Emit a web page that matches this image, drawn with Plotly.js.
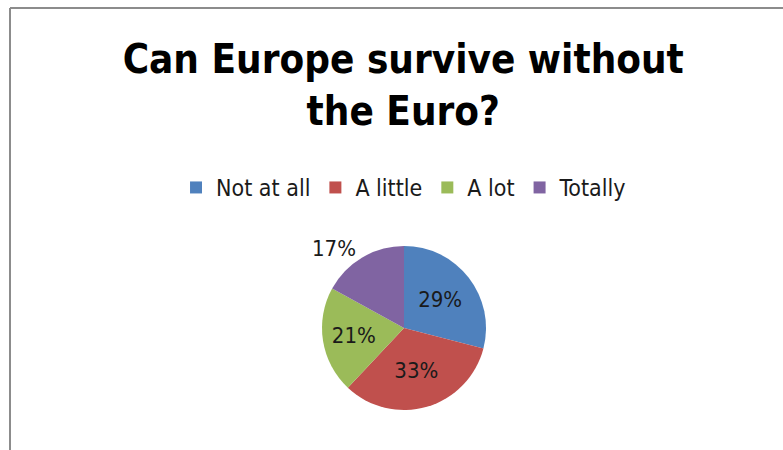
<!DOCTYPE html>
<html>
<head>
<meta charset="utf-8">
<script src="https://cdn.plot.ly/plotly-3.0.1.min.js"></script>
<style>html,body{margin:0;padding:0;background:#fff;}#chart{width:783px;height:450px;}</style>
</head>
<body>
<div id="chart"></div>
<script>
const categories = ["Not at all", "A little", "A lot", "Totally"];
const values = [29, 33, 21, 17];
const colors = ["#4F81BD", "#C0504D", "#9BBB59", "#8064A2"];
const labelPositions = ["inside", "inside", "inside", "outside"];

const W = 783, H = 450;
const cx = 404, cy = 328, r = 82;
const FONT = "Liberation Sans Narrow, DejaVu Sans Condensed, sans-serif";

const trace = {
  type: "pie",
  labels: categories,
  values: values,
  sort: false,
  direction: "clockwise",
  rotation: 0,
  marker: {colors: colors, line: {width: 0}},
  textinfo: "percent",
  texttemplate: "%{percent:.0%}",
  textposition: labelPositions,
  insidetextorientation: "horizontal",
  insidetextfont: {family: FONT, size: 22, color: "#1a1a1a"},
  outsidetextfont: {family: FONT, size: 22, color: "#1a1a1a"},
  hoverinfo: "label+percent",
  domain: {x: [(cx - r) / W, (cx + r) / W], y: [1 - (cy + r) / H, 1 - (cy - r) / H]},
  automargin: false
};

const layout = {
  width: W, height: H,
  margin: {l: 0, r: 0, t: 0, b: 0},
  paper_bgcolor: "#ffffff",
  plot_bgcolor: "#ffffff",
  font: {family: FONT, color: "#1a1a1a"},
  title: {
    text: "<b>Can Europe survive without<br>the Euro?</b>",
    font: {family: FONT, size: 40, color: "#000000"},
    x: 0.515, xanchor: "center",
    y: 1 - 73 / H, yanchor: "top"
  },
  showlegend: true,
  legend: {
    orientation: "h",
    x: 0.516, xanchor: "center",
    y: 1 - 166 / H, yanchor: "top",
    font: {family: FONT, size: 23, color: "#1a1a1a"},
    itemwidth: 30,
    traceorder: "normal"
  },
  shapes: [
    {type: "line", xref: "paper", yref: "paper", x0: 10 / W, x1: 1, y0: 1 - 8 / H, y1: 1 - 8 / H, line: {color: "#8c8c8c", width: 2}},
    {type: "line", xref: "paper", yref: "paper", x0: 10 / W, x1: 10 / W, y0: 0, y1: 1 - 8 / H, line: {color: "#8c8c8c", width: 2}}
  ]
};

Plotly.newPlot("chart", [trace], layout, {displayModeBar: false, staticPlot: true});
</script>
</body>
</html>
